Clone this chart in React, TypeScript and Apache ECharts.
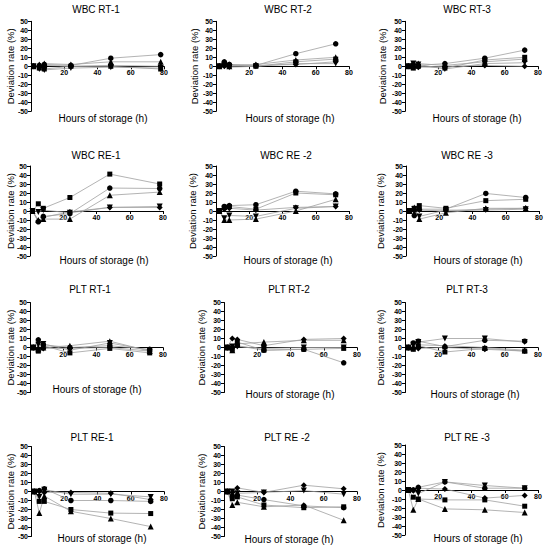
import React, { useEffect, useRef } from "react";
import * as echarts from "echarts";

// ---- data ----
const TIMES = [2, 5, 8, 24, 48, 72];
const TIMES_WBC_LEFT = [1.5, 5, 8, 24, 48, 78];

const PANEL_TITLES = [
  "WBC RT-1", "WBC RT-2", "WBC RT-3",
  "WBC RE-1", "WBC RE -2", "WBC RE -3",
  "PLT RT-1", "PLT RT-2", "PLT RT-3",
  "PLT RE-1", "PLT RE -2", "PLT RE -3",
];

const X_TICKS = [0, 20, 40, 60, 80];
const Y_TICKS = [-50, -40, -30, -20, -10, 0, 10, 20, 30, 40, 50];

// series order: circle, square, triangle-up, triangle-down, diamond
const WBC_RT_1 = [
  [0, 1, 2, 1, 9, 13],
  [0, -2, -3, 0, 0, -3],
  [0, 2, 3, 2, 5, 5],
  [0, -3, -4, -2, -1, -2],
  [0, 0, 1, 0, 1, 0],
];
const WBC_RT_2 = [
  [0, 5, 2, 1, 14, 25],
  [0, 3, 1, 0, 5, 8],
  [0, 2, 0, 2, 7, 10],
  [0, 1, -1, 0, 3, 3],
  [0, 0, 2, 1, 2, 5],
];
const WBC_RT_3 = [
  [0, 2, 1, 3, 9, 18],
  [0, -2, 0, -2, 7, 10],
  [0, 1, 3, 1, 5, 8],
  [0, 3, 2, -3, 3, 4],
  [0, -1, -1, 0, 1, 0],
];
const WBC_RE_1 = [
  [0, -12, -6, -3, 25.5, 25],
  [0, 8, 3, 15, 41, 30],
  [0, -10, -9, -9, 17.5, 21],
  [0, -1, 1, -2, 4, 5],
  [0, -11, -7, -1, 4, 4],
];
const WBC_RE_2 = [
  [0, 5, 6, 7, 22, 19],
  [0, 4, 5, 2, 20, 18],
  [0, -10, -10, -9, 0, 13],
  [0, -8, -5, -6, 3, 5],
  [0, 2, 3, 1, 4, 5],
];
const WBC_RE_3 = [
  [0, -5, 2, 2, 19.5, 15],
  [0, 3, 6, 3, 11.5, 13],
  [0, 4, -9, -2, 3, 3],
  [0, 2, -6, 1, 1, 2],
  [0, 0, 1, 0, 2, 3],
];
const PLT_RT_1 = [
  [0, 8.5, 3, 0, 2, -2],
  [0, -4, 2, -6, -1, -6],
  [0, -2, 0, 2, 7, -4],
  [0, 3, 4, -3, 5, -3],
  [0, -1, -1, -1, 0, -4],
];
const PLT_RT_2 = [
  [0, 0, 2, -3, -2, -17],
  [0, -2, 6, -3, -2, -1],
  [0, -3, 4, 6, 8, 8],
  [0, 1, 1, -1, 0, 0],
  [0, 10, 9, 2, 9, 10],
];
const PLT_RT_3 = [
  [0, 5, 7, 1, 8, 7],
  [0, -2, 2, -5, -1, -4],
  [0, 1, 3, 2, 0, -3],
  [0, 3, 6, 10, 10, 6],
  [0, -1, -1, 0, -2, -4],
];
const PLT_RE_1 = [
  [0, 1, 3, -10, -10, -11],
  [0, -11, -11, -20, -24, -24.5],
  [0, -24, -5, -22, -30, -39],
  [0, -6, 2, -3, -3, -6],
  [0, 0, -1, -1, -2, -9],
];
const PLT_RE_2 = [
  [0, -5, -4, -9, -16, -18],
  [0, -8, -6, -15, -18, -17],
  [0, -15, -12, -17, -15, -32],
  [0, 0, -2, -1, 1, -3],
  [0, -1, 4, -1, 7, 3],
];
const PLT_RE_3 = [
  [0, 0, 3, 9, 2, 2],
  [0, -8, -10, -11, -11, -18],
  [0, -22, -10, -21, -22, -25],
  [0, -1, -4, 9, 5, 2],
  [0, 0, 2, 1, -9, -6],
];

const PANEL_DATA = [
  WBC_RT_1, WBC_RT_2, WBC_RT_3,
  WBC_RE_1, WBC_RE_2, WBC_RE_3,
  PLT_RT_1, PLT_RT_2, PLT_RT_3,
  PLT_RE_1, PLT_RE_2, PLT_RE_3,
];
const PANEL_TIMES = [
  TIMES_WBC_LEFT, TIMES, TIMES,
  TIMES_WBC_LEFT, TIMES, TIMES,
  TIMES, TIMES, TIMES,
  TIMES, TIMES, TIMES,
];

const MARKERS = ["circle", "rect", "triangle", "triangle", "diamond"];
const MARKER_ROTATE = [0, 0, 0, 180, 0];
const MARKER_SIZE = [5.5, 5, 6, 6, 6];

// ---- layout ----
const PANEL_LEFT = [31, 216, 405, 30, 216, 406, 30, 224, 405, 31, 224, 405];
const PANEL_TOP = [21.3, 21.3, 21.3, 166, 166, 166, 302.5, 302.5, 302.5, 446.5, 446.5, 445];
const PANEL_W = 133;
const PANEL_H = 90;
const TITLE_X = [96, 288, 467, 96, 286, 467, 90, 289, 467, 92, 287, 467];
const TITLE_Y = [9.5, 9.5, 9.5, 155.5, 155.5, 155.5, 289.5, 289.5, 289.5, 437, 437, 437];
const XT_X = [103, 290, 477, 104, 288, 478, 97, 290, 475, 102, 289, 478];
const XT_Y = [118, 118, 118, 260, 260, 260, 389, 394, 394, 538, 539, 538];
const YT_X = [10, 194, 382, 10, 192, 380, 10, 201, 380, 10, 201, 380];

const FONT = "'Liberation Sans', Arial, Helvetica, sans-serif";

export default function App() {
  const ref = useRef<HTMLDivElement>(null);
  useEffect(() => {
    if (!ref.current) return;
    const chart = echarts.init(ref.current, undefined, { renderer: "svg" });
    const lineStyle = { color: "#000", width: 1 };
    const grid: any[] = [];
    const xAxis: any[] = [];
    const yAxis: any[] = [];
    const series: any[] = [];
    const graphic: any[] = [];
    const yMin = Y_TICKS[0];
    const yMax = Y_TICKS[Y_TICKS.length - 1];
    PANEL_TITLES.forEach((title, i) => {
      grid.push({ left: PANEL_LEFT[i], top: PANEL_TOP[i], width: PANEL_W, height: PANEL_H });
      // move the bottom axis up to where y = 0 lies
      const zeroOffset = -PANEL_H * (0 - yMin) / (yMax - yMin);
      xAxis.push({
        gridIndex: i,
        type: "value",
        position: "bottom",
        offset: zeroOffset,
        min: X_TICKS[0],
        max: X_TICKS[X_TICKS.length - 1],
        interval: 20,
        axisLine: { show: true, onZero: false, lineStyle },
        axisTick: { show: true, length: 3, lineStyle },
        axisLabel: {
          formatter: (v: number) => (v === 0 ? "" : String(v)),
          fontSize: 7,
          fontWeight: "bold",
          fontFamily: FONT,
          color: "#000",
          margin: 3,
        },
        splitLine: { show: false },
      });
      yAxis.push({
        gridIndex: i,
        type: "value",
        min: yMin,
        max: yMax,
        interval: 10,
        axisLine: { show: true, onZero: false, lineStyle },
        axisTick: { show: true, length: 3, lineStyle },
        axisLabel: {
          fontSize: 7,
          fontWeight: "bold",
          fontFamily: FONT,
          color: "#000",
          margin: 3,
        },
        splitLine: { show: false },
      });
      PANEL_DATA[i].forEach((vals, k) => {
        series.push({
          type: "line",
          xAxisIndex: i,
          yAxisIndex: i,
          data: PANEL_TIMES[i].map((t, j) => [t, vals[j]]),
          symbol: MARKERS[k],
          symbolRotate: MARKER_ROTATE[k],
          symbolSize: MARKER_SIZE[k],
          showSymbol: true,
          lineStyle: { color: "#a0a0a0", width: 0.8 },
          itemStyle: { color: "#000" },
          silent: true,
        });
      });
      graphic.push({
        type: "text",
        x: TITLE_X[i],
        y: TITLE_Y[i],
        style: { text: title, fontSize: 10, fontFamily: FONT, fill: "#000", textAlign: "center", textVerticalAlign: "middle" },
      });
      graphic.push({
        type: "text",
        x: XT_X[i],
        y: XT_Y[i],
        style: { text: "Hours of storage (h)", fontSize: 10, fontFamily: FONT, fill: "#000", textAlign: "center", textVerticalAlign: "middle" },
      });
      graphic.push({
        type: "text",
        x: YT_X[i],
        y: PANEL_TOP[i] + PANEL_H / 2,
        rotation: Math.PI / 2,
        style: { text: "Deviation rate (%)", fontSize: 9.5, fontFamily: FONT, fill: "#000", textAlign: "center", textVerticalAlign: "middle" },
      });
    });
    chart.setOption({
      animation: false,
      backgroundColor: "#fff",
      grid,
      xAxis,
      yAxis,
      series,
      graphic,
    });
    return () => chart.dispose();
  }, []);
  return (
    <div
      ref={ref}
      style={{ position: "absolute", left: 0, top: 0, width: 550, height: 550, background: "#fff" }}
    />
  );
}
